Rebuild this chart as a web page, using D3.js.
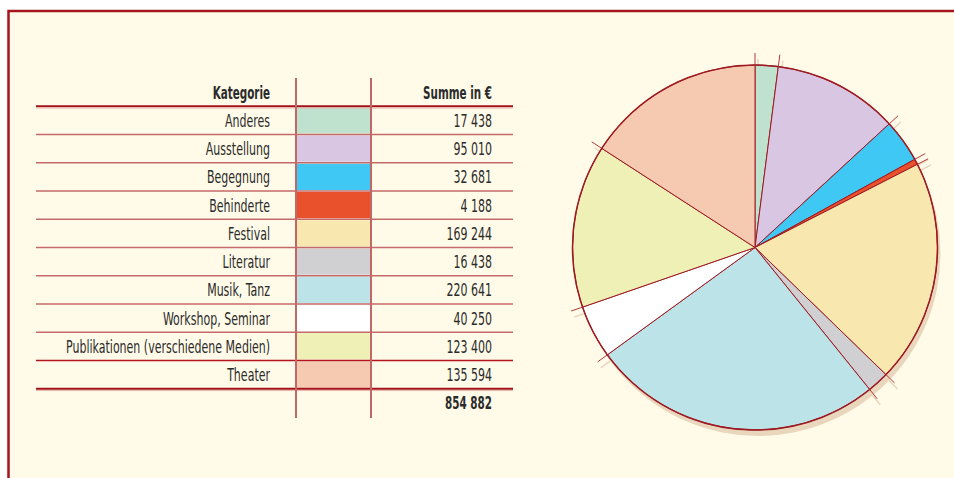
<!DOCTYPE html>
<html><head><meta charset="utf-8">
<script src="https://cdn.jsdelivr.net/npm/d3@7"></script>
<style>
html,body{margin:0;padding:0;background:#fff;}
svg{display:block;}
text{font-family:"Liberation Sans Narrow","DejaVu Sans Condensed","Liberation Sans",sans-serif;fill:#2b2b2b;}
</style></head>
<body>
<script>
const categories = ["Anderes","Ausstellung","Begegnung","Behinderte","Festival","Literatur","Musik, Tanz","Workshop, Seminar","Publikationen (verschiedene Medien)","Theater"];
const values = [17438,95010,32681,4188,169244,16438,220641,40250,123400,135594];
const colors = ["#bfe2ce","#d9c6e2","#40c8f4","#e9502c","#f8e8b0","#d0d0d2","#bce3e8","#ffffff","#eff0b6","#f6cab0"];
const headers = ["Kategorie","Summe in €"];
const totalLabel = "854 882";

const W = 954, H = 478;
const svg = d3.select("body").append("svg").attr("width",W).attr("height",H);

// frame
svg.append("rect").attr("x",0).attr("y",0).attr("width",W).attr("height",H).attr("fill","#fff");
svg.append("rect").attr("x",8.5).attr("y",11).attr("width",W+20).attr("height",H+20)
  .attr("fill","#fffbe8").attr("stroke","#a3161c").attr("stroke-width",2.5);

const fmt = v => d3.format(",")(v).replace(/,/g," ");

// ---- table ----
const rows = ["__head", ...categories, "__total"];
const y = d3.scaleBand().domain(rows).range([78, 78 + rows.length*28.25]);
const xLeft = 36, xRight = 513, xLab = 270, xSw0 = 296, xSw1 = 371, xVal = 492;
const tbl = svg.append("g");

// swatches
tbl.selectAll("rect.sw").data(categories).join("rect")
  .attr("x", xSw0+1).attr("width", xSw1-xSw0-2)
  .attr("y", d => y(d)+1).attr("height", y.bandwidth()-2)
  .attr("fill", (d,i)=>colors[i]);

// horizontal lines
const hLines = categories.map(c => y(c)).concat([y("__total")]);
tbl.selectAll("line.h").data(hLines).join("line")
  .attr("x1", xLeft).attr("x2", xRight).attr("y1", d=>d).attr("y2", d=>d)
  .attr("stroke", (d,i)=> (i===0||i===hLines.length-1) ? "#a3101a" : (i===9 ? "#b3141e" : "#c46a6a"))
  .attr("stroke-width", (d,i)=> (i===0||i===hLines.length-1) ? 2 : (i===9?1.3:1.6));
tbl.selectAll("line.hl").data([hLines[0], hLines[hLines.length-1]]).join("line")
  .attr("x1", xLeft).attr("x2", xRight).attr("y1", d=>d+1.8).attr("y2", d=>d+1.8)
  .attr("stroke","#e7b5ad").attr("stroke-width",1);

// vertical lines
tbl.selectAll("line.v").data([xSw0, xSw1]).join("line")
  .attr("x1", d=>d).attr("x2", d=>d)
  .attr("y1", y("__head")).attr("y2", y("__total")+y.bandwidth()+1)
  .attr("stroke","#c06868").attr("stroke-width",2);

function txt(x, yy, s, bold){
  return tbl.append("text").attr("transform",`translate(${x},${yy}) scale(${bold?0.66:0.7},1)`)
    .attr("text-anchor","end").attr("font-size",17.5).attr("font-weight",bold?"bold":"normal").text(s);
}
const base = r => y(r) + y.bandwidth()/2 + 6.5;
txt(xLab, base("__head"), headers[0], true);
txt(xVal, base("__head"), headers[1], true);
categories.forEach((c,i)=>{
  txt(xLab, base(c), c);
  txt(xVal, base(c), fmt(values[i]));
});
txt(xVal, base("__total"), totalLabel, true);

// ---- pie ----
const cx = 755, cy = 247.5, R = 182.5, tickL = 12;
const pie = d3.pie().sort(null).value(d=>d)(values);
const arc = d3.arc().innerRadius(0).outerRadius(R);
const g = svg.append("g").attr("transform",`translate(${cx},${cy})`);
const bounds = pie.map(p=>p.startAngle);

// shadow
const sh = g.append("g").attr("transform","translate(3,6)");
sh.append("circle").attr("r",R).attr("fill","#e8d6bd");
sh.selectAll("line").data(bounds).join("line")
  .attr("x1", a=>Math.sin(a)*R).attr("y1", a=>-Math.cos(a)*R)
  .attr("x2", a=>Math.sin(a)*(R+tickL)).attr("y2", a=>-Math.cos(a)*(R+tickL))
  .attr("stroke","#e8d6bd").attr("stroke-width",1.5);

g.selectAll("path.s").data(pie).join("path")
  .attr("d", arc).attr("fill",(d,i)=>colors[i])
  .attr("stroke","#9e1a22").attr("stroke-width",1).attr("stroke-linejoin","round");
g.append("circle").attr("r",R).attr("fill","none").attr("stroke","#9e1a22").attr("stroke-width",1.5);
g.selectAll("line.t").data(bounds).join("line")
  .attr("x1", a=>Math.sin(a)*R).attr("y1", a=>-Math.cos(a)*R)
  .attr("x2", a=>Math.sin(a)*(R+tickL)).attr("y2", a=>-Math.cos(a)*(R+tickL))
  .attr("stroke","#b43a3a").attr("stroke-width",1);
</script>
</body></html>
